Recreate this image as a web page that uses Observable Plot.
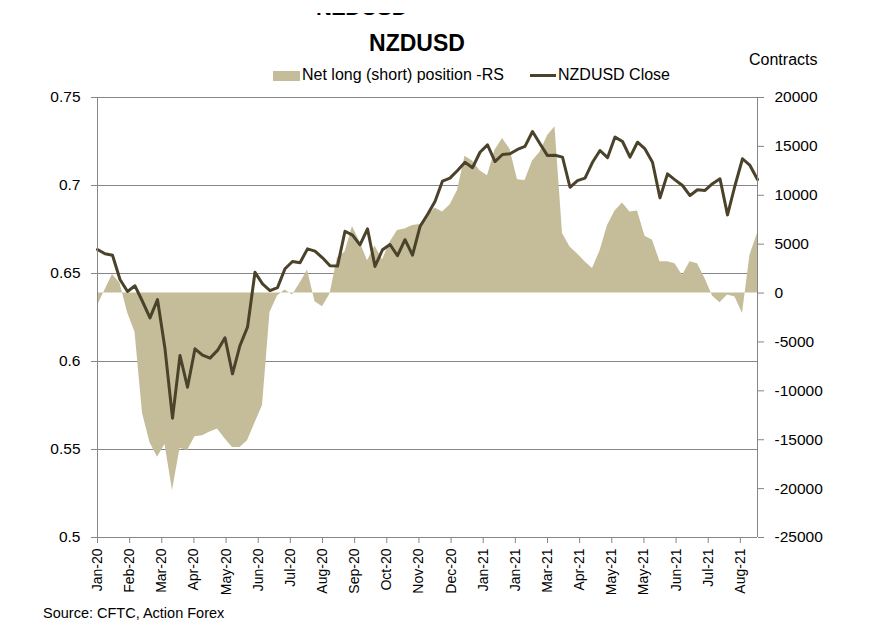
<!DOCTYPE html>
<html><head><meta charset="utf-8">
<script src="https://cdn.jsdelivr.net/npm/d3@7"></script>
<script src="https://cdn.jsdelivr.net/npm/@observablehq/plot@0.6"></script>
<style>
body{margin:0;background:#fff;font-family:"Liberation Sans",Arial,sans-serif;}
#wrap{position:relative;width:896px;height:624px;overflow:hidden;background:#fff;}
.abs{position:absolute;white-space:nowrap;color:#000;line-height:1;}
</style></head><body><div id="wrap"></div>
<script>
const startDate = "2020-01-07";
const closeValues = [
0.6636,0.6612,0.6604,0.6466,0.6398,0.6430,0.6341,0.6248,0.6352,0.6072,
0.5678,0.6034,0.5854,0.6072,0.6036,0.6019,0.6063,0.6135,0.5930,0.6091,
0.6195,0.6507,0.6441,0.6403,0.6420,0.6527,0.6568,0.6561,0.6640,0.6627,
0.6589,0.6544,0.6542,0.6740,0.6718,0.6663,0.6754,0.6540,0.6635,0.6665,
0.6601,0.6692,0.6604,0.6767,0.6835,0.6909,0.7025,0.7042,0.7085,0.7132,
0.7101,0.7189,0.7231,0.7136,0.7176,0.7180,0.7205,0.7222,0.7307,0.7237,
0.7170,0.7172,0.7161,0.6990,0.7028,0.7042,0.7132,0.7199,0.7158,0.7275,
0.7250,0.7161,0.7246,0.7208,0.7132,0.6930,0.7066,0.7032,0.7000,0.6943,
0.6976,0.6972,0.7010,0.7038,0.6833,0.7000,0.7152,0.7114,0.7034];
const netPositions = [
-1300,300,1900,1000,-2000,-4000,-12300,-15300,-16800,-15500,
-20200,-15900,-16100,-14700,-14600,-14200,-13900,-14900,-15800,-15800,
-15100,-13300,-11500,-2000,-300,300,-200,1000,2350,-900,
-1400,-100,3600,4200,6800,5200,3300,4800,3400,5200,
6400,6550,6900,7000,7900,8700,8300,9000,10500,14000,
13500,12500,12000,14600,15800,14700,11600,11500,13500,14400,
16100,17000,6100,4700,4000,3200,2500,4300,6900,8400,
9200,8300,8400,5800,5400,3200,3200,3000,1800,3200,
3000,1500,-300,-1000,-200,-400,-2100,3900,6100];
const tickLabels = ["Jan-20","Feb-20","Mar-20","Apr-20","May-20","Jun-20","Jul-20","Aug-20","Sep-20","Oct-20","Nov-20","Dec-20","Jan-21","Jan-21","Mar-21","Apr-21","May-21","May-21","Jun-21","Jul-21","Aug-21"];
const leftTicks = [0.5,0.55,0.6,0.65,0.7,0.75];
const gridTicks = [0.55,0.6,0.65,0.7,0.75];
const rightTicks = [20000,15000,10000,5000,0,-5000,-10000,-15000,-20000,-25000];

const t0 = new Date(startDate + "T00:00:00Z");
const dates = closeValues.map((_, i) => d3.utcDay.offset(t0, 7 * i));
const tickDates = tickLabels.map((_, k) => d3.utcDay.offset(t0, 30 * k));
const labelOf = new Map(tickDates.map((d, k) => [+d, tickLabels[k]]));
const toL = v => 0.5 + (v + 25000) / 45000 * 0.25;
const fromL = y => Math.round(((y - 0.5) / 0.25 * 45000 - 25000) / 100) * 100;
const rows = dates.map((d, i) => ({date: d, close: closeValues[i], net: netPositions[i]}));
const gray = "#868686";

const chart = Plot.plot({
  width: 896, height: 624,
  marginLeft: 97, marginRight: 139, marginTop: 97, marginBottom: 87,
  style: {fontFamily: '"Liberation Sans", Arial, sans-serif', fontSize: "15.5px", background: "transparent", color: "#000"},
  x: {type: "utc", domain: [dates[0], dates[dates.length - 1]]},
  y: {domain: [0.5, 0.75]},
  marks: [
    Plot.ruleY(gridTicks, {stroke: gray, strokeWidth: 1}),
    Plot.areaY(rows, {x: "date", y1: () => toL(0), y2: d => toL(d.net), fill: "#c5bd99", curve: "linear"}),
    Plot.lineY(rows, {x: "date", y: "close", stroke: "#4a422a", strokeWidth: 3, strokeLinejoin: "round"}),
    Plot.ruleX([dates[0], dates[dates.length - 1]], {stroke: gray}),
    Plot.ruleY([0.5], {stroke: gray}),
    Plot.axisY({anchor: "left", ticks: leftTicks, tickSize: 6, tickPadding: 11, tickFormat: d => String(+d.toFixed(2)), stroke: gray, fill: "#000", label: null}),
    Plot.axisY({anchor: "right", ticks: rightTicks.map(toL), tickSize: 6, tickPadding: 11, tickFormat: d => String(fromL(d)), stroke: gray, fill: "#000", label: null}),
    Plot.axisX({anchor: "bottom", ticks: tickDates, tickFormat: d => labelOf.get(+d), tickRotate: -90, tickSize: 6, tickPadding: 5, fontSize: 14, stroke: gray, fill: "#000", label: null})
  ]
});
const wrap = document.getElementById("wrap");
chart.style.position = "absolute";
chart.style.left = "0px";
chart.style.top = "0px";
wrap.appendChild(chart);

function addText(txt, css) {
  const el = document.createElement("div");
  el.className = "abs";
  el.textContent = txt;
  Object.assign(el.style, css);
  wrap.appendChild(el);
  return el;
}
// clipped title remnant at very top (only the bottom edge of its letters shows)
addText("NZDUSD", {left: "316px", top: "-3.5px", height: "22px", fontSize: "22px", fontWeight: "bold",
  clipPath: "inset(16.5px 0px 2.5px 0px)"});

addText("NZDUSD", {left: "417px", top: "32px", fontSize: "23px", fontWeight: "bold", transform: "translateX(-50%)"});
addText("Contracts", {left: "749px", top: "51.5px", fontSize: "16px"});
const sw = document.createElement("div");
Object.assign(sw.style, {position: "absolute", left: "272.5px", top: "70.5px", width: "27px", height: "10px", background: "#c5bd99"});
wrap.appendChild(sw);
addText("Net long (short) position -RS", {left: "302px", top: "67px", fontSize: "16px"});
const ln = document.createElement("div");
Object.assign(ln.style, {position: "absolute", left: "530px", top: "74px", width: "26px", height: "3px", background: "#4a422a"});
wrap.appendChild(ln);
addText("NZDUSD Close", {left: "558px", top: "67px", fontSize: "16px"});
addText("Source: CFTC, Action Forex", {left: "43px", top: "605.5px", fontSize: "14.5px"});
</script></body></html>
